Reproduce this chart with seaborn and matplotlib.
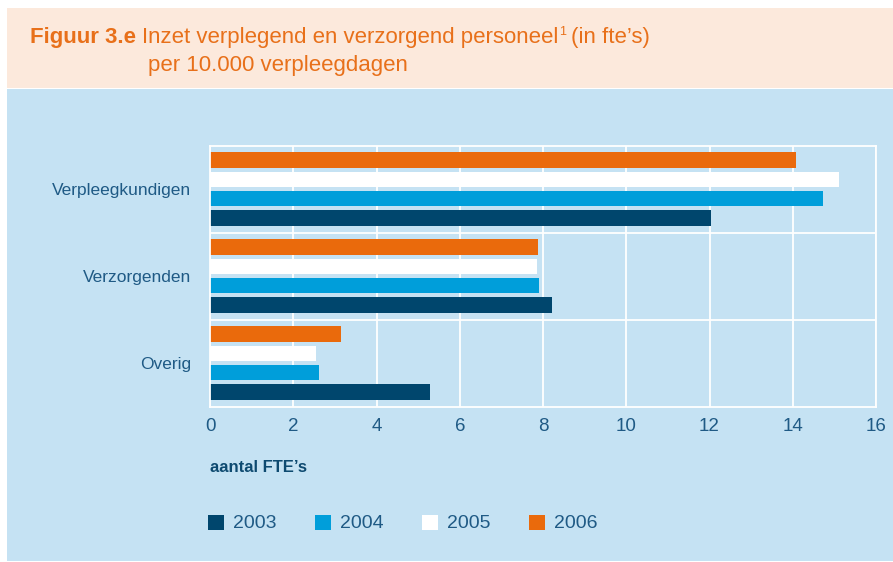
import numpy as np
import pandas as pd
import matplotlib
matplotlib.use("Agg")
import matplotlib.pyplot as plt
from matplotlib.patches import Rectangle
import seaborn as sns

# Data
categories = ["Verpleegkundigen", "Verzorgenden", "Overig"]
years = ["2003", "2004", "2005", "2006"]
fte_2003 = [12.03, 8.21, 5.28]
fte_2004 = [14.72, 7.90, 2.63]
fte_2005 = [15.11, 7.85, 2.54]
fte_2006 = [14.09, 7.87, 3.14]

colors = {"2003": "#00466D", "2004": "#009EDA", "2005": "#FFFFFF", "2006": "#EA6A0C"}
panel_blue = "#C5E2F3"
peach = "#FCE9DC"
text_blue = "#1F5A85"
orange = "#E8701A"

df = pd.DataFrame({"categorie": categories, "2003": fte_2003, "2004": fte_2004,
                   "2005": fte_2005, "2006": fte_2006})
df = df.melt(id_vars="categorie", var_name="jaar", value_name="fte")

sns.set_theme(style="white")
plt.rcParams["font.family"] = ["Liberation Sans", "DejaVu Sans"]

fig = plt.figure(figsize=(8.93, 5.62), dpi=100)
fig.patch.set_facecolor("white")
# header and panel backgrounds
fig.patches.append(Rectangle((7 / 893, 1 - 88 / 562), 886 / 893, 80 / 562,
                             transform=fig.transFigure, facecolor=peach, edgecolor="none", zorder=-2))
fig.patches.append(Rectangle((7 / 893, 1 - 561 / 562), 886 / 893, 472 / 562,
                             transform=fig.transFigure, facecolor=panel_blue, edgecolor="none", zorder=-2))

ax = fig.add_axes([210 / 893, 1 - 406.5 / 562, 666 / 893, 261 / 562])
ax.set_zorder(2)
ax.set_facecolor(panel_blue)

sns.barplot(data=df, y="categorie", x="fte", hue="jaar", order=categories,
            hue_order=["2006", "2005", "2004", "2003"], palette=colors,
            orient="h", width=0.88, gap=0.18, saturation=1, ax=ax, legend=False,
            edgecolor="none", linewidth=0)

ax.set_xlim(0, 16)
ax.set_ylim(2.5, -0.5)
ax.set_xticks(np.arange(0, 17, 2))
ax.set_axisbelow(True)
ax.grid(axis="x", color="white", linewidth=1.3)
for yb in [0.5, 1.5]:
    ax.axhline(yb, color="white", linewidth=1.3, zorder=0.5)
for side in ["top", "right", "bottom", "left"]:
    ax.spines[side].set_color("white")
    ax.spines[side].set_linewidth(1.3)

ax.set_xlabel("")
ax.set_ylabel("")
ax.tick_params(axis="x", colors=text_blue, labelsize=13.5, length=0, pad=8)
ax.tick_params(axis="y", colors=text_blue, labelsize=12.5, length=0, pad=13.5)

fig.text(210 / 893, 1 - 467 / 562, "aantal FTE’s", color="#0E4A70", fontsize=12,
         fontweight="bold", va="center", ha="left")

# legend
leg_x = [208, 315, 422, 529]
for x, yr in zip(leg_x, years):
    fig.patches.append(Rectangle((x / 893, 1 - 530 / 562), 16 / 893, 15 / 562,
                                 transform=fig.transFigure, facecolor=colors[yr],
                                 edgecolor="none", zorder=2))
    fig.text((x + 25) / 893, 1 - 523 / 562, yr, color=text_blue, fontsize=14,
             va="center", ha="left")

# title
y1 = 1 - 38 / 562
t1 = fig.text(30 / 893, y1, "Figuur 3.e", color=orange, fontsize=16,
              fontweight="bold", va="center", ha="left")
fig.canvas.draw()
bb = t1.get_window_extent()
t2 = fig.text((bb.x1 + 6) / 893, y1, "Inzet verplegend en verzorgend personeel",
              color=orange, fontsize=16, va="center", ha="left")
fig.canvas.draw()
bb = t2.get_window_extent()
t3 = fig.text((bb.x1 + 1) / 893, y1 + 6 / 562, "1", color=orange, fontsize=9,
              va="center", ha="left")
fig.canvas.draw()
bb = t3.get_window_extent()
fig.text((bb.x1 + 5) / 893, y1, "(in fte’s)", color=orange, fontsize=16,
         va="center", ha="left")
fig.text(148 / 893, 1 - 66 / 562, "per 10.000 verpleegdagen", color=orange,
         fontsize=16, va="center", ha="left")

fig.savefig("out.png", dpi=100, facecolor=fig.get_facecolor())
